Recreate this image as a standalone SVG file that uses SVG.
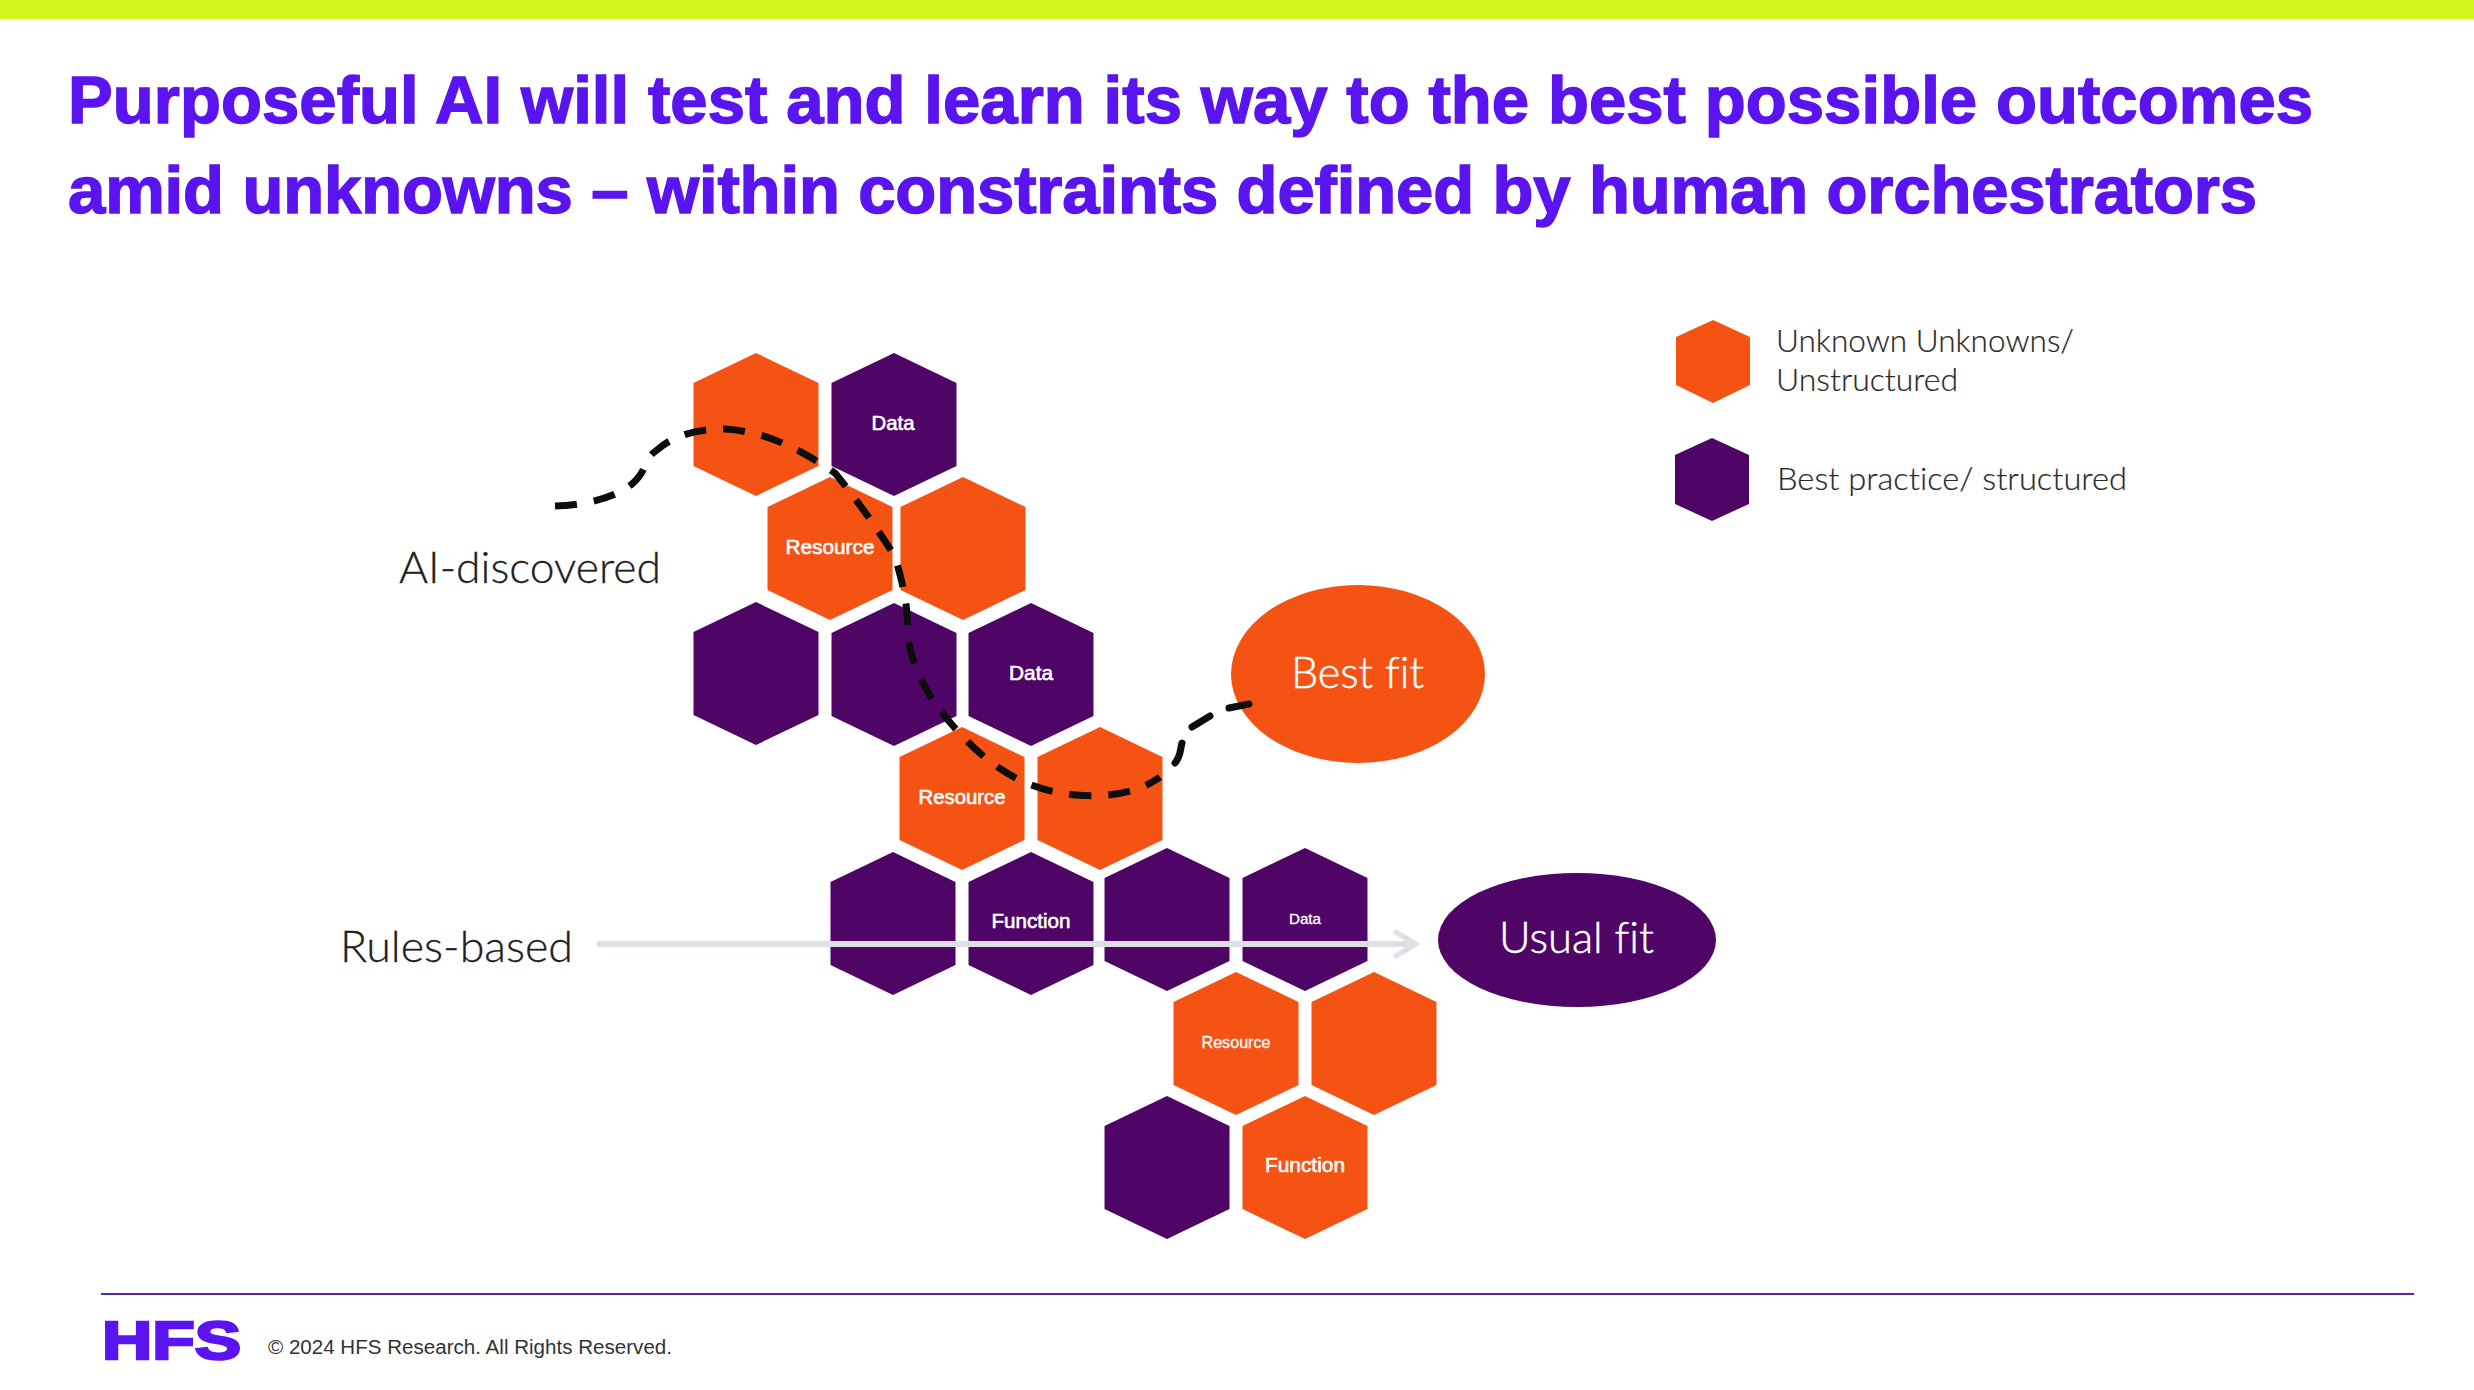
<svg xmlns="http://www.w3.org/2000/svg" width="2474" height="1390" viewBox="0 0 2474 1390">
<style>
text{font-variant-ligatures:none}
.o{fill:#f55314}.p{fill:#4f0566}
.title{font:bold 67px "Liberation Sans",Arial,sans-serif;fill:#5a14f0;stroke:#5a14f0;stroke-width:1.5}
.hl{font:21px "Liberation Sans",Arial,sans-serif;fill:#fff;stroke:#fff;stroke-width:.6;text-anchor:middle}
.lab{font-family:Lato,"Open Sans",sans-serif;font-weight:300;fill:#1e1e1e;stroke:#1e1e1e;stroke-width:.3}
.ell{font-family:Lato,"Open Sans",sans-serif;font-weight:300;fill:#fff;stroke:#fff;stroke-width:.5;font-size:44px}
.leg{font-family:Lato,"Open Sans",sans-serif;font-weight:300;fill:#2a2a2a;stroke:#2a2a2a;stroke-width:.2;font-size:31px}
</style>
<defs>
<polygon id="h" points="0,0 62.5,30 62.5,113 0,143 -62.5,113 -62.5,30"/>
<marker id="chev" markerUnits="userSpaceOnUse" markerWidth="34" markerHeight="34" refX="28" refY="17" orient="auto"><path d="M5,4 L27,17 L5,30" fill="none" stroke="#dfdfe6" stroke-width="5"/></marker>
</defs>
<rect width="2474" height="1390" fill="#fff"/>
<rect width="2474" height="19" fill="#d4f51c"/>
<text class="title" x="68" y="123" textLength="2245" lengthAdjust="spacing">Purposeful AI will test and learn its way to the best possible outcomes</text>
<text class="title" x="68" y="213" textLength="2189" lengthAdjust="spacing">amid unknowns – within constraints defined by human orchestrators</text>
<g id="n1"><use href="#h" class="o" x="756" y="353"/></g>
<g id="n2"><use href="#h" class="p" x="894" y="353"/><text class="hl" x="893" y="430" textLength="43" lengthAdjust="spacingAndGlyphs">Data</text></g>
<g id="n3"><use href="#h" class="o" x="830" y="477"/><text class="hl" x="830" y="554" textLength="89" lengthAdjust="spacingAndGlyphs">Resource</text></g>
<g id="n4"><use href="#h" class="o" x="963" y="477"/></g>
<g id="n5"><use href="#h" class="p" x="756" y="602"/></g>
<g id="n6"><use href="#h" class="p" x="894" y="603"/></g>
<g id="n7"><use href="#h" class="p" x="1031" y="603"/><text class="hl" x="1031" y="680" textLength="44" lengthAdjust="spacingAndGlyphs">Data</text></g>
<g id="n8"><use href="#h" class="o" x="962" y="727"/><text class="hl" x="962" y="804" textLength="87" lengthAdjust="spacingAndGlyphs">Resource</text></g>
<g id="n9"><use href="#h" class="o" x="1100" y="727"/></g>
<g id="n10"><use href="#h" class="p" x="893" y="852"/></g>
<g id="n11"><use href="#h" class="p" x="1031" y="852"/><text class="hl" x="1031" y="928" textLength="79" lengthAdjust="spacingAndGlyphs">Function</text></g>
<g id="n12"><use href="#h" class="p" x="1167" y="848"/></g>
<g id="n13"><use href="#h" class="p" x="1305" y="848"/><text class="hl" x="1305" y="924" style="font-size:15px;stroke-width:.3" textLength="32" lengthAdjust="spacingAndGlyphs">Data</text></g>
<g id="n14"><use href="#h" class="o" x="1236" y="972"/><text class="hl" x="1236" y="1048" style="font-size:16px;stroke-width:.3" textLength="69" lengthAdjust="spacingAndGlyphs">Resource</text></g>
<g id="n15"><use href="#h" class="o" x="1374" y="972"/></g>
<g id="n16"><use href="#h" class="p" x="1167" y="1096"/></g>
<g id="n17"><use href="#h" class="o" x="1305" y="1096"/><text class="hl" x="1305" y="1172" textLength="80" lengthAdjust="spacingAndGlyphs">Function</text></g>
<g id="bestfit"><ellipse class="o" cx="1358" cy="674" rx="127" ry="89"/><text class="ell" x="1291" y="688" textLength="133" lengthAdjust="spacingAndGlyphs">Best fit</text></g>
<g id="usualfit"><ellipse class="p" cx="1577" cy="940" rx="139" ry="67"/><text class="ell" x="1499" y="953" textLength="155" lengthAdjust="spacingAndGlyphs">Usual fit</text></g>
<g id="connectors">
<path d="M555 506 C585 505 615 498 632 484 C650 468 640 462 657 450 C675 434 700 429 725 429 C760 431 795 445 835 473 C865 510 888 545 895 557 C905 590 908 610 908 637 C912 670 930 700 954 727 C985 762 1020 790 1076 795 C1110 798 1140 792 1160 777" fill="none" stroke="#0d0d0d" stroke-width="7" stroke-dasharray="22 17"/>
<path d="M1175 763 C1181 756 1180 750 1182 743" fill="none" stroke="#0d0d0d" stroke-width="7" stroke-linecap="round"/>
<path d="M1192 727 L1210 716" fill="none" stroke="#0d0d0d" stroke-width="7" stroke-linecap="round"/>
<path d="M1229 708 L1249 704" fill="none" stroke="#0d0d0d" stroke-width="7" stroke-linecap="round"/>
<path d="M597 944 H1417" fill="none" stroke="#dfdfe6" stroke-width="6" marker-end="url(#chev)"/>
</g>
<g id="labels">
<text class="lab" x="399" y="583" font-size="43" textLength="262" lengthAdjust="spacingAndGlyphs">AI-discovered</text>
<text class="lab" x="340" y="962" font-size="43" textLength="233" lengthAdjust="spacingAndGlyphs">Rules-based</text>
</g>
<g id="legend-unknown"><polygon class="o" points="1713,320 1750,337 1750,385 1713,403 1676,385 1676,337"/>
<text class="leg" x="1776" y="352" textLength="298" lengthAdjust="spacingAndGlyphs">Unknown Unknowns/</text>
<text class="leg" x="1776" y="391" textLength="182" lengthAdjust="spacingAndGlyphs">Unstructured</text></g>
<g id="legend-best"><polygon class="p" points="1712,438 1749,455 1749,504 1712,521 1675,504 1675,455"/>
<text class="leg" x="1777" y="490" textLength="350" lengthAdjust="spacingAndGlyphs">Best practice/ structured</text></g>
<g id="footer">
<rect x="101" y="1293" width="2313" height="2" fill="#5b21b6"/>
<text x="102" y="1359" font-family="Liberation Sans, Arial, sans-serif" font-weight="bold" font-size="54" fill="#5a14f0" stroke="#5a14f0" stroke-width="2.5" textLength="139" lengthAdjust="spacingAndGlyphs">HFS</text>
<text x="268" y="1354" font-family="Liberation Sans, Arial, sans-serif" font-size="20" fill="#333" textLength="404" lengthAdjust="spacingAndGlyphs">© 2024 HFS Research. All Rights Reserved.</text>
</g>
</svg>
